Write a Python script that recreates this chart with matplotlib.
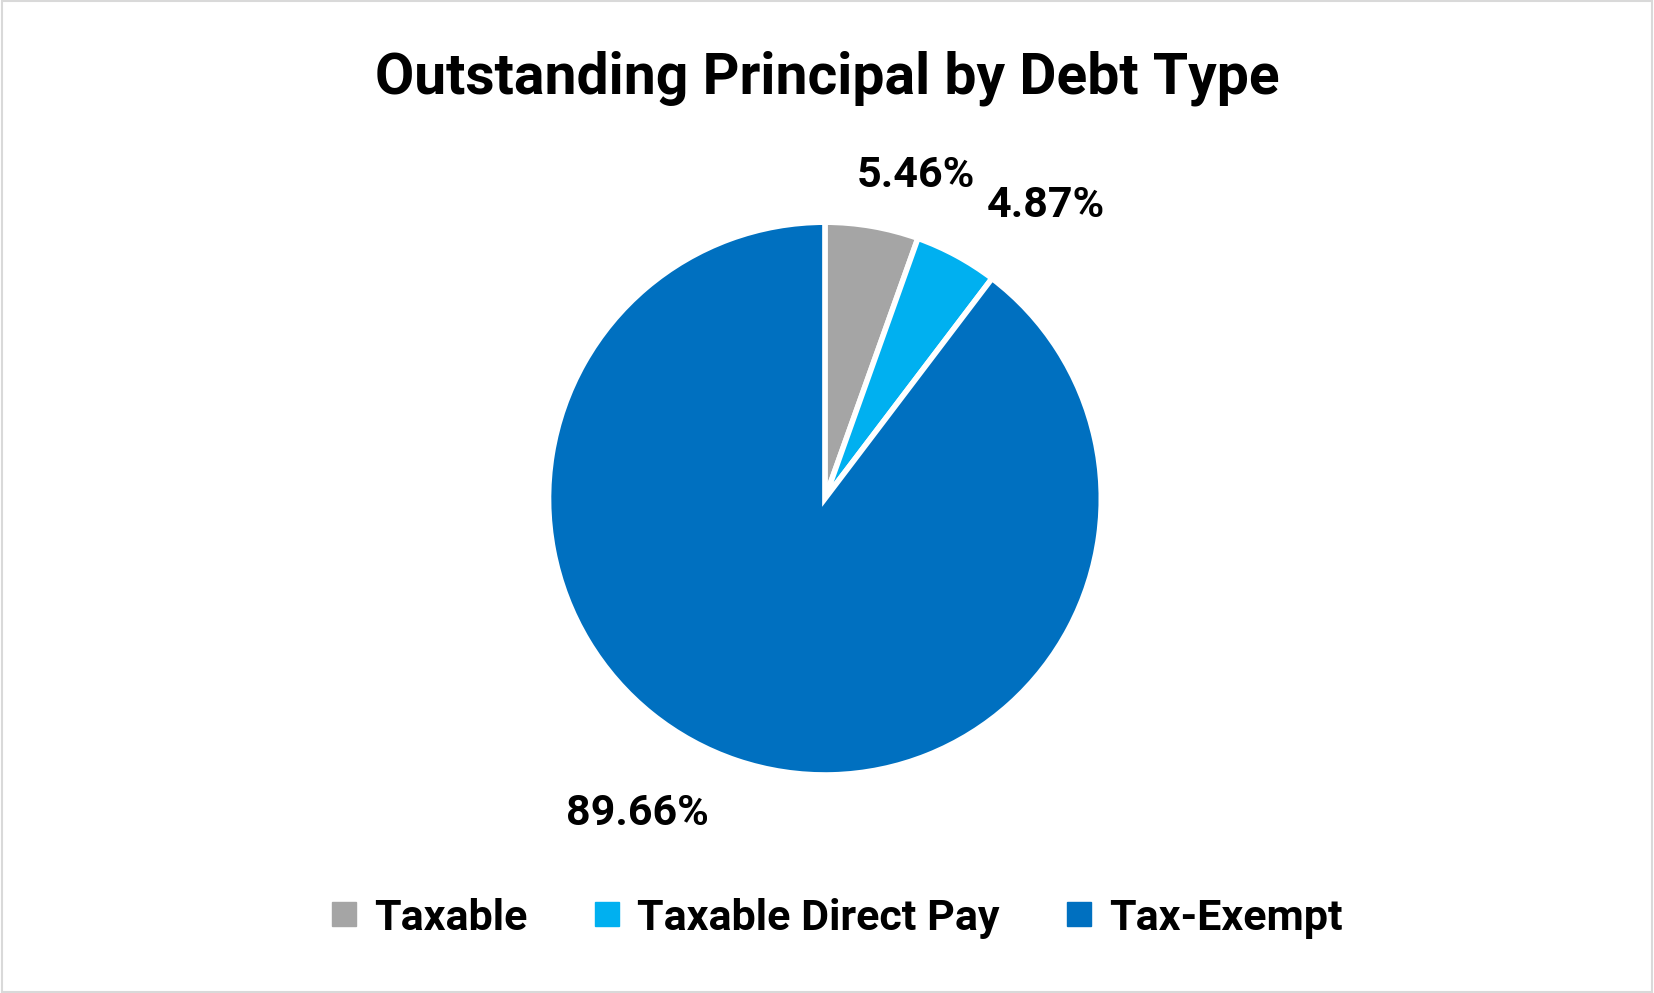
import matplotlib
matplotlib.use('Agg')
import matplotlib.pyplot as plt
from matplotlib.lines import Line2D
from matplotlib.patches import Rectangle

plt.rcParams['font.family'] = ['Roboto', 'DejaVu Sans']

categories = ['Taxable', 'Taxable Direct Pay', 'Tax-Exempt']
shares = [5.46, 4.87, 89.66]
colors = ['#A5A5A5', '#00B0F0', '#0070C0']
# label positions in pie-radius units (Excel "best fit" placement)
label_pos = [(0.33, 1.17), (0.80, 1.06), (-0.68, -1.14)]

fig = plt.figure(figsize=(16.54, 9.93), dpi=100)
fig.add_artist(Rectangle((0.001, 0.001), 0.998, 0.998, transform=fig.transFigure,
                         fill=False, edgecolor='#D9D9D9', linewidth=1.5))

ax = fig.add_axes([0.248, 0.0804, 0.5015, 0.835])
wedges, texts = ax.pie(
    shares, colors=colors, startangle=90, counterclock=False,
    labels=[f'{v:.2f}%' for v in shares], labeldistance=1.2,
    wedgeprops=dict(edgecolor='white', linewidth=4),
    textprops=dict(fontsize=31, fontweight='bold', color='black'))
for t, pos in zip(texts, label_pos):
    t.set_position(pos)
    t.set_ha('center')
    t.set_va('center')
ax.set_xlim(-1.5, 1.5)
ax.set_ylim(-1.5, 1.5)
ax.set_aspect('equal')

fig.text(0.5, 0.921, 'Outstanding Principal by Debt Type', ha='center', va='center',
         fontsize=41, fontweight='bold')

handles = [Line2D([], [], marker='s', linestyle='none', markersize=17, color=c)
           for c in colors]
fig.legend(handles, categories, loc='center', bbox_to_anchor=(0.504, 0.0755), ncol=3,
           frameon=False, prop=dict(size=31, weight='bold'), handletextpad=0.25,
           columnspacing=1.4, handlelength=0.9)

fig.savefig('out.png', dpi=100)
